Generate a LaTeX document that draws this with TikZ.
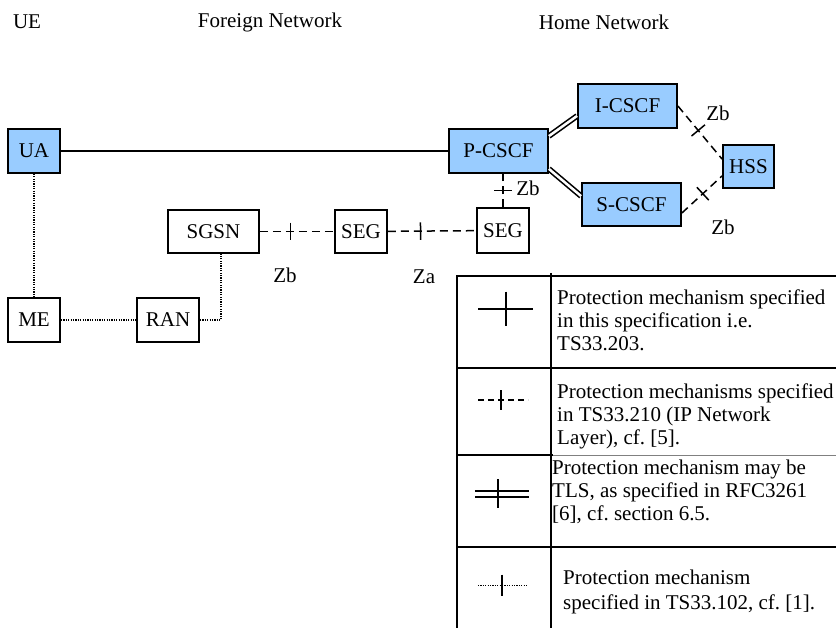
\documentclass[tikz,border=0pt]{standalone}
\usepackage{fontspec}
\setmainfont{Liberation Serif}
\usepackage{xcolor}
\definecolor{imsblue}{RGB}{153,204,255}
\tikzset{every node/.style={font=\fontsize{21}{23}\selectfont},
 entity/.style={draw,line width=1.8pt,inner sep=0pt,minimum height=44pt},
 home/.style={entity,fill=imsblue},
 guardmark/.style={sloped,inner sep=0pt,minimum width=0pt,minimum height=16pt,
  append after command={(\tikzlastnode.north) edge[solid,line width=1.5pt] (\tikzlastnode.south)}},
 ipsec/.style={line width=1.5pt,dash pattern=on 8pt off 5pt},
 umts/.style={line width=1.4pt,dash pattern=on 1.2pt off 1.2pt},
 tls/.style={double,double distance=2.5pt,line width=1.6pt},
 legtext/.style={anchor=base west,align=left,inner sep=0pt},
 }

\begin{document}
\begin{tikzpicture}[x=1pt,y=-1pt]
        \useasboundingbox (0,0) rectangle (836,628);
        \node (ue) at (27,22) {UE};
        \node (foreign) at (270,22) {Foreign Network};
        \node (homenet) at (604,22) {Home Network};

        \node[home,minimum width=52pt] (ua) at (34,151) {UA};
        \node[home,minimum width=99pt] (pcscf) at (498.5,151) {P-CSCF};
        \node[home,minimum width=99pt] (icscf) at (627.5,106) {I-CSCF};
        \node[home,minimum width=99pt,minimum height=43pt] (scscf) at (631.5,204.5) {S-CSCF};
        \node[home,minimum width=51pt,minimum height=43pt] (hss) at (748.5,166.5) {HSS};
        \node[entity,minimum width=52pt,minimum height=45pt] (segh) at (503,230.5) {SEG};
        \node[entity,minimum width=52pt,minimum height=43pt] (segf) at (361,231.5) {SEG};
        \node[entity,minimum width=91pt,minimum height=43pt] (sgsn) at (213.5,231.5) {SGSN};
        \node[entity,minimum width=52pt] (me) at (34,320) {ME};
        \node[entity,minimum width=62pt] (ran) at (168,320) {RAN};

        \draw[line width=1.6pt] (ua) -- (pcscf);
        \draw[tls] ([yshift=-8pt]pcscf.north east) -- ([yshift=13pt]icscf.south west);
        \draw[tls] ([yshift=5pt]pcscf.south east) -- ([yshift=-14pt]scscf.north west);
        \draw[ipsec] (icscf.east) -- ([yshift=-15pt]hss.north west) node[pos=.46,guardmark] {};
        \draw[ipsec] ([yshift=-8.5pt]scscf.east) -- ([yshift=13pt]hss.south west) node[pos=.52,guardmark] {};
        \draw[ipsec] (segh.north) -- (segh.north |- pcscf.south) node[pos=.5,guardmark] {};
        \draw[ipsec] (sgsn) -- (segf) node[pos=.41,guardmark] {};
        \draw[ipsec] (segf) -- (segh) node[pos=.37,guardmark] {};
        \draw[umts] (ua) -- (me);
        \draw[umts] (me) -- (ran);
        \draw[umts] (ran.east) -| ([xshift=7.5pt]sgsn.south);

        \node (zbi) at (718,113) {Zb};
        \node (zbs) at (723,227) {Zb};
        \node (zbp) at (528,188) {Zb};
        \node (zbf) at (285,275) {Zb};
        \node (za) at (424,277) {Za};

        \draw[line width=1.8pt] (457,628) -- (457,276) -- (836,276);
        \draw[line width=1.8pt] (551,273) -- (551,628);
        \draw[line width=1.8pt] (457,368) -- (836,368);
        \draw[line width=1.8pt] (457,455) -- (553,455);
        \draw[line width=.6pt,gray] (553,455) -- (836,455);
        \draw[line width=1.8pt] (457,547) -- (836,547);

        \draw[line width=1.8pt] (478,309) -- (533,309) node[pos=.51,guardmark,minimum height=33pt] {};
        \draw[ipsec,dash pattern=on 6pt off 4pt] (478,400) -- (528,400) node[pos=.46,guardmark,minimum height=18pt] {};
        \draw[tls,line width=2pt,double distance=4pt] (475,493.5) -- (529,493.5) node[pos=.43,guardmark,minimum height=27pt] {};
        \draw[umts,line width=1pt] (478,585) -- (527,585) node[pos=.49,guardmark,minimum height=20pt] {};

        \node[legtext] (lega) at (557,351) {Protection mechanism specified\\in this specification i.e.\\TS33.203.};
        \node[legtext] (legb) at (557,444) {Protection mechanisms specified\\in TS33.210 (IP Network\\Layer), cf.\ [5].};
        \node[legtext] (legc) at (552,520) {Protection mechanism may be\\TLS, as specified in RFC3261\\{[6]}, cf.\ section 6.5.};
        \node[legtext] (legd) at (563,609) {Protection mechanism\\[2pt]specified in TS33.102, cf.\ [1].};
    \end{tikzpicture}
\end{document}
